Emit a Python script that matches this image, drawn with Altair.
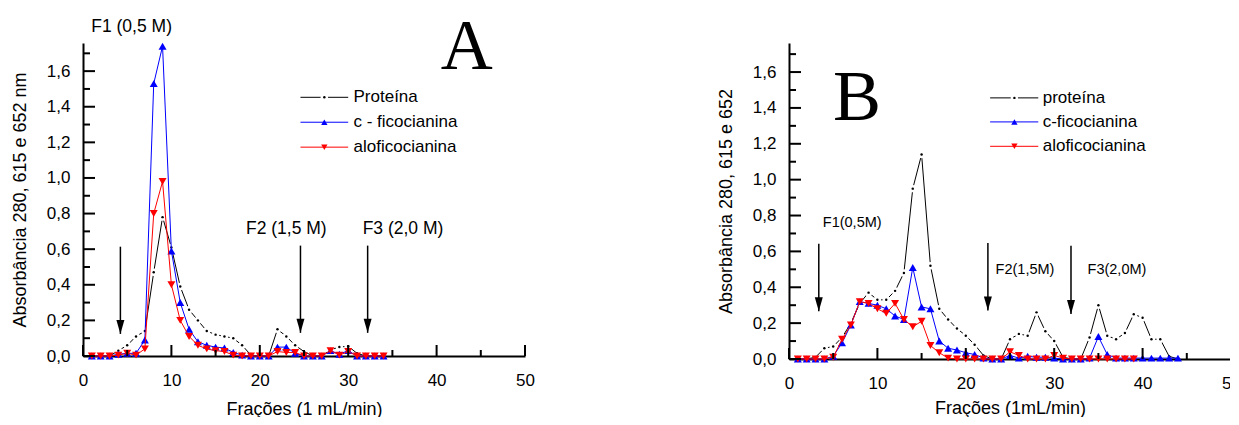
import altair as alt
import pandas as pd

FONT = "Liberation Sans"
SERIF = "Liberation Serif"

# ---------------- Panel A data ----------------
fr_a = list(range(1, 35))
prot_a = [0, 0, 0, 0.03, 0.06, 0.11, 0.14, 0.47, 0.78, 0.61,
          0.39, 0.26, 0.20, 0.14, 0.12, 0.11, 0.10, 0.06, 0.005, 0,
          0, 0.15, 0.11, 0.06, 0.025, 0, 0, 0.035, 0.05, 0.055,
          0.015, 0, 0, 0]
cfic_a = [0, 0, 0, 0.01, 0.015, 0.015, 0.09, 1.53, 1.74, 0.59,
          0.30, 0.15, 0.08, 0.06, 0.05, 0.045, 0.02, 0.005, 0, 0,
          0, 0.05, 0.05, 0.015, 0, 0, 0, 0.03, 0.01, 0.03,
          0, 0, 0, 0]
alof_a = [0, 0, 0, 0.005, 0.015, 0.005, 0.04, 0.80, 0.98, 0.40,
          0.20, 0.11, 0.06, 0.04, 0.03, 0.025, 0.005, 0, 0, 0,
          0, 0.025, 0.02, 0.02, 0, 0, 0, 0.03, 0.005, 0.025,
          0, 0, 0, 0]

# ---------------- Panel B data ----------------
fr_b = list(range(1, 45))
prot_b = [0, 0, 0.01, 0.06, 0.07, 0.12, 0.20, 0.31, 0.37, 0.33,
          0.33, 0.38, 0.48, 0.95, 1.14, 0.52, 0.28, 0.22, 0.17, 0.13,
          0.08, 0.02, 0, 0, 0.11, 0.14, 0.13, 0.26, 0.155, 0.10,
          0.01, 0, 0, 0.12, 0.30, 0.13, 0.11, 0.145, 0.25, 0.23,
          0.11, 0.11, 0.015, 0]
cfic_b = [0, 0, 0, 0, 0.015, 0.09, 0.19, 0.32, 0.31, 0.30,
          0.28, 0.24, 0.22, 0.51, 0.29, 0.28, 0.10, 0.06, 0.05, 0.035,
          0.025, 0.005, 0, 0, 0.02, 0.005, 0.015, 0.01, 0.01, 0.005,
          0, 0, 0, 0.005, 0.125, 0.025, 0.005, 0.005, 0.005, 0.005,
          0.005, 0.005, 0.005, 0.005]
fr_b_alof = list(range(1, 40))
alof_b = [0, 0, 0, 0, 0.01, 0.11, 0.19, 0.32, 0.31, 0.28,
          0.255, 0.31, 0.22, 0.18, 0.21, 0.075, 0.035, 0.005, 0, 0,
          0, 0, 0, 0, 0.04, 0.02, 0, 0, 0, 0.02,
          0.005, 0, 0, 0, 0, 0, 0, 0, 0]

# tick values
x_major = [0, 10, 20, 30, 40, 50]
x_minor = [5, 15, 25, 35, 45]
y_major = [0, 0.2, 0.4, 0.6, 0.8, 1.0, 1.2, 1.4, 1.6]
y_minor = [0.1, 0.3, 0.5, 0.7, 0.9, 1.1, 1.3, 1.5, 1.7]

# annotations (data coordinates)
ann_a = {
    "arrows": [(4.23, 0.614, 0.124), (24.6, 0.62, 0.13), (32.2, 0.62, 0.13)],
    "texts": [("F1 (0,5 M)", 5.5, 1.82), ("F2 (1,5 M)", 23.0, 0.684), ("F3 (2,0 M)", 36.2, 0.684)],
    "big": ("A", 43.4, 1.61),
    "legend_labels": ["Proteína", "c - ficocianina", "aloficocianina"],
    "legend_y": [1.453, 1.313, 1.173],
    "legend_x": (24.6, 27.3, 30.0, 30.6),
}
ann_b = {
    "arrows": [(3.37, 0.643, 0.266), (22.5, 0.647, 0.271), (31.9, 0.632, 0.251)],
    "texts": [("F1(0,5M)", 7.15, 0.736), ("F2(1,5M)", 26.7, 0.476), ("F3(2,0M)", 37.1, 0.476)],
    "big": ("B", 7.7, 1.33),
    "legend_labels": ["proteína", "c-ficocianina", "aloficocianina"],
    "legend_y": [1.456, 1.322, 1.186],
    "legend_x": (22.75, 25.5, 28.2, 28.7),
}

BLUE = "#0000ff"
RED = "#ff0000"
ARROW_PATH = "M-0.57,-2L0.57,-2L0,0Z"
LABEL_EXPR = "replace(format(datum.value, '.1f'), '.', ',')"


def panel(fr, prot, fr_c, cfic, fr_r, alof, ann, H, ymax, xtitle, ytitle, ann_size, xtitle_pad):
    xs = alt.Scale(domain=[0, 50], nice=False, zero=False)
    ys = alt.Scale(domain=[0, ymax], nice=False, zero=False)
    xaxis = alt.Axis(values=x_major, title=xtitle, grid=False, ticks=False, tickSize=0,
                     labelFlush=False, labelOverlap=False, labelPadding=16, titlePadding=xtitle_pad,
                     domainWidth=2, domainColor="black")
    yaxis = alt.Axis(values=y_major, title=ytitle, grid=False, ticks=False, tickSize=0,
                     labelFlush=False, labelOverlap=False, labelExpr=LABEL_EXPR,
                     labelPadding=13, titlePadding=17, domainWidth=2, domainColor="black")

    def X(f):
        return alt.X(f, type="quantitative", scale=xs, axis=xaxis, title=xtitle)

    def Y(f):
        return alt.Y(f, type="quantitative", scale=ys, axis=yaxis, title=ytitle)

    dp = pd.DataFrame({"x": fr, "v": prot})
    dc = pd.DataFrame({"x": fr_c, "v": cfic})
    dr = pd.DataFrame({"x": fr_r, "v": alof})

    prot_line = alt.Chart(dp).mark_line(color="black", strokeWidth=1).encode(
        x=X("x"), y=Y("v"))
    halo = alt.Chart(dp).transform_filter("datum.v >= 0.03").mark_point(
        filled=True, shape="circle", size=55, color="white", opacity=1).encode(x=X("x"), y=Y("v"))
    prot_pts = alt.Chart(dp).mark_point(filled=True, shape="circle", size=6, color="black",
                                        opacity=1).encode(x=X("x"), y=Y("v"))
    c_line = alt.Chart(dc).mark_line(color=BLUE, strokeWidth=1).encode(x=X("x"), y=Y("v"))
    c_pts = alt.Chart(dc).mark_point(filled=True, shape="triangle-up", size=64, color=BLUE,
                                     opacity=1).encode(x=X("x"), y=Y("v"))
    r_line = alt.Chart(dr).mark_line(color=RED, strokeWidth=1).encode(x=X("x"), y=Y("v"))
    r_pts = alt.Chart(dr).mark_point(filled=True, shape="triangle-down", size=64, color=RED,
                                     opacity=1).encode(x=X("x"), y=Y("v"))

    # arrows
    da = pd.DataFrame(ann["arrows"], columns=["x", "y1", "y2"])
    arrow_shaft = alt.Chart(da).mark_rule(color="black", strokeWidth=1.5).encode(
        x=X("x"), y=Y("y1"), y2="y2")
    arrow_head = alt.Chart(da).mark_point(filled=True, shape=ARROW_PATH, size=196,
                                          color="black", opacity=1).encode(x=X("x"), y=Y("y2"))

    dt = pd.DataFrame(ann["texts"], columns=["label", "x", "y"])
    texts = alt.Chart(dt).mark_text(font=FONT, fontSize=ann_size,
                                    color="black", align="center", baseline="alphabetic").encode(
        x=X("x"), y=Y("y"), text="label:N")

    big_lbl, bx, by = ann["big"]
    dbig = pd.DataFrame({"label": [big_lbl], "x": [bx], "y": [by]})
    big = alt.Chart(dbig).mark_text(font=SERIF, fontSize=72, color="black", align="center",
                                    baseline="alphabetic").encode(x=X("x"), y=Y("y"), text="label:N")

    # legend
    lx1, lxm, lx2, lxt = ann["legend_x"]
    legend_layers = []
    colors = ["black", BLUE, RED]
    for i, (lab, ly, col) in enumerate(zip(ann["legend_labels"], ann["legend_y"], colors)):
        d = pd.DataFrame({"x1": [lx1], "x2": [lx2], "xm": [lxm], "xt": [lxt], "y": [ly], "label": [lab]})
        base = alt.Chart(d)
        legend_layers.append(base.mark_rule(color=col, strokeWidth=1).encode(
            x=X("x1"), x2="x2", y=Y("y")))
        if i == 0:
            legend_layers.append(base.mark_point(filled=True, shape="circle", size=55, color="white",
                                                 opacity=1).encode(x=X("xm"), y=Y("y")))
            legend_layers.append(base.mark_point(filled=True, shape="circle", size=6, color="black",
                                                 opacity=1).encode(x=X("xm"), y=Y("y")))
        else:
            shape = "triangle-up" if i == 1 else "triangle-down"
            legend_layers.append(base.mark_point(filled=True, shape=shape, size=40, color=col,
                                                 opacity=1).encode(x=X("xm"), y=Y("y")))
        legend_layers.append(base.mark_text(font=FONT, fontSize=17, color="black", align="left",
                                            baseline="middle").encode(
            x=X("xt"), y=Y("y"), text="label:N"))

    # inward ticks
    dxM = pd.DataFrame({"t": x_major})
    dxm = pd.DataFrame({"t": x_minor})
    dyM = pd.DataFrame({"t": y_major})
    dym = pd.DataFrame({"t": y_minor})
    ticks = [
        alt.Chart(dxM).mark_rule(color="black", strokeWidth=2).encode(
            x=X("t"), y=alt.value(H), y2=alt.value(H - 11)),
        alt.Chart(dxm).mark_rule(color="black", strokeWidth=2).encode(
            x=X("t"), y=alt.value(H), y2=alt.value(H - 6)),
        alt.Chart(dyM).mark_rule(color="black", strokeWidth=2).encode(
            y=Y("t"), x=alt.value(0), x2=alt.value(12)),
        alt.Chart(dym).mark_rule(color="black", strokeWidth=2).encode(
            y=Y("t"), x=alt.value(0), x2=alt.value(7)),
    ]

    layers = [prot_line, halo, prot_pts, c_line, c_pts, r_line, r_pts,
              arrow_shaft, arrow_head, texts, big] + legend_layers + ticks
    return alt.layer(*layers).properties(width=442, height=H)


pA = panel(fr_a, prot_a, fr_a, cfic_a, fr_a, alof_a, ann_a, 313, 1.758,
           "Frações (1 mL/min)", "Absorbância 280, 615 e 652 nm", 17.5, 12)
pB = panel(fr_b, prot_b, fr_b, cfic_b, fr_b_alof, alof_b, ann_b, 316, 1.762,
           "Frações (1mL/min)", "Absorbância 280, 615 e 652", 14.5, 8)

chart = alt.hconcat(pA, pB, spacing=264, bounds="flush").properties(
    padding={"left": 3, "top": 3, "right": -11, "bottom": -1}
).configure_axis(
    labelFont=FONT, titleFont=FONT, labelFontSize=17, titleFontSize=18,
    labelColor="black", titleColor="black", titleFontWeight="normal", grid=False
).configure_view(stroke=None)

chart.save("out.html", embed_options={"renderer": "svg", "actions": False})
